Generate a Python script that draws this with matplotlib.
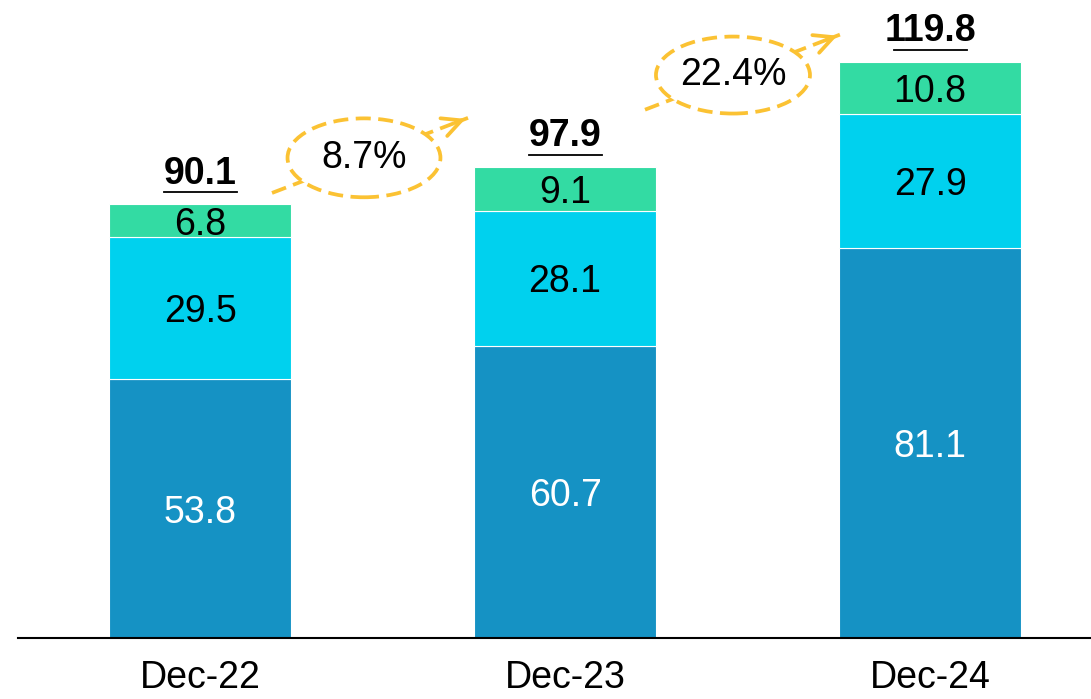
import matplotlib
matplotlib.use("Agg")
import matplotlib.pyplot as plt
from matplotlib.patches import Ellipse
import numpy as np

plt.rcParams['font.family'] = ['Liberation Sans', 'DejaVu Sans']

# 数据
categories = ['Dec-22', 'Dec-23', 'Dec-24']
seg_bottom = [53.8, 60.7, 81.1]
seg_middle = [29.5, 28.1, 27.9]
seg_top = [6.8, 9.1, 10.8]
totals = ['90.1', '97.9', '119.8']
growth = ['8.7%', '22.4%']

c_dark = '#1592C4'
c_cyan = '#00D1EE'
c_green = '#33DBA3'
c_arrow = '#FBC233'

fig = plt.figure(figsize=(10.91, 6.99), dpi=100)
ax = fig.add_axes([18/1091, 61/699, 1 - 18/1091, 638/699])

x = np.arange(len(categories))
b = np.array(seg_bottom)
m = np.array(seg_middle)
t = np.array(seg_top)
w = 0.5
ax.bar(x, b, w, color=c_dark, edgecolor='white', linewidth=0.8)
ax.bar(x, m, w, bottom=b, color=c_cyan, edgecolor='white', linewidth=0.8)
ax.bar(x, t, w, bottom=b + m, color=c_green, edgecolor='white', linewidth=0.8)

fs = 27
for i in x:
    ax.text(i, b[i] / 2, f'{seg_bottom[i]}', ha='center', va='center_baseline', fontsize=fs, color='white')
    ax.text(i, b[i] + m[i] / 2, f'{seg_middle[i]}', ha='center', va='center_baseline', fontsize=fs, color='black')
    ax.text(i, b[i] + m[i] + t[i] / 2, f'{seg_top[i]}', ha='center', va='center_baseline', fontsize=fs, color='black')
    top = b[i] + m[i] + t[i]
    ax.text(i, top + 6.4, totals[i], ha='center', va='center', fontsize=27, fontweight='bold')
    ax.plot([i - 0.1, i + 0.1], [top + 2.5, top + 2.5], color='black', lw=1.3)

# 增长率标注
ells = [(0.449, 99.8, 0.419, 16.4), (1.46, 117.0, 0.422, 16.0)]
arrows = [((0.197, 92.5), (0.734, 108.1)), ((1.219, 109.8), (1.753, 125.4))]
for (cx, cy, ew, eh), (p0, p1), g in zip(ells, arrows, growth):
    ax.plot([p0[0], p1[0]], [p0[1], p1[1]], color=c_arrow, lw=2.7, dashes=(4, 2), zorder=3)
    d = np.array(p1) - np.array(p0)
    ax.annotate('', xy=p1, xytext=(p1[0] - d[0] * 0.08, p1[1] - d[1] * 0.08),
                arrowprops=dict(arrowstyle='->', color=c_arrow, lw=2.7, mutation_scale=34), zorder=3)
    e = Ellipse((cx, cy), ew, eh, facecolor='white', edgecolor=c_arrow, lw=2.7, linestyle=(0, (4, 2)), zorder=4)
    ax.add_patch(e)
    ax.text(cx, cy, g, ha='center', va='center', fontsize=27, zorder=5)

ax.set_xlim(-0.499, 2.441)
ax.set_ylim(0, 132.6)
ax.set_xticks(x)
ax.set_xticklabels(categories, fontsize=27)
ax.tick_params(axis='x', length=0, pad=16)
ax.set_yticks([])
for s in ['top', 'right', 'left']:
    ax.spines[s].set_visible(False)
ax.spines['bottom'].set_linewidth(1.5)

fig.savefig('out.png', dpi=100)
